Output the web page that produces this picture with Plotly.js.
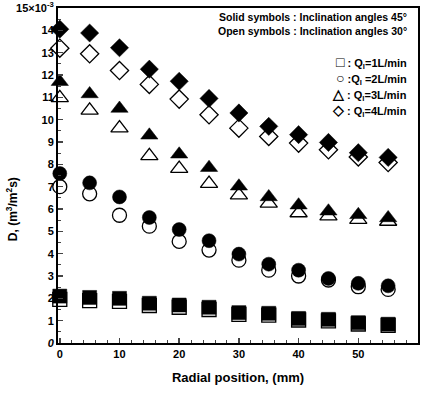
<!DOCTYPE html>
<html><head><meta charset="utf-8">
<script src="https://cdn.plot.ly/plotly-3.0.1.min.js"></script>
<style>html,body{margin:0;padding:0;background:#fff;}#chart{width:422px;height:394px;}</style>
</head><body><div id="chart"></div>
<script>
const radial = [0,5,10,15,20,25,30,35,40,45,50,55];
// Solid symbols: inclination 45 deg; Open symbols: inclination 30 deg (values x1e-3)
const q1_45 = [2.10,2.04,2.00,1.78,1.70,1.60,1.36,1.33,1.10,1.06,0.91,0.84];
const q1_30 = [1.95,1.90,1.86,1.68,1.60,1.50,1.28,1.25,1.03,0.99,0.85,0.79];
const q2_45 = [7.59,7.17,6.54,5.62,5.08,4.58,3.98,3.53,3.26,2.89,2.67,2.56];
const q2_30 = [7.00,6.68,5.72,5.23,4.55,4.16,3.71,3.26,3.00,2.82,2.52,2.40];
const q3_45 = [11.70,11.15,10.50,9.30,8.45,7.85,7.02,6.54,6.17,5.90,5.74,5.60];
const q3_30 = [10.98,10.42,9.62,8.38,7.81,7.14,6.62,6.25,5.82,5.68,5.52,5.44];
const q4_45 = [14.05,13.88,13.22,12.26,11.72,10.95,10.30,9.70,9.33,8.98,8.52,8.31];
const q4_30 = [13.20,12.95,12.20,11.58,10.92,10.22,9.62,9.25,8.95,8.65,8.33,8.08];
const yTicks = [0,1,2,3,4,5,6,7,8,9,10,11,12,13,14,15];
const yTickText = ['<i>0</i>','1','2','3','4','5','6','7','8','9','10','11','12','13','14','15×10<sup>-3</sup>'];
const xTicks = [0,10,20,30,40,50,60];
const xTickText = ['0','10','20','30','40','50','60'];

function tr(y, sym, filled, size){
  return {x: radial, y: y, mode:'markers', type:'scatter', showlegend:false, cliponaxis:false,
    marker:{symbol: sym, size: size, color: filled ? '#000' : '#fff',
      line:{color:'#000', width: filled ? 0.5 : 1.3}}};
}
const data = [
  tr(q1_30,'square',false,14), tr(q2_30,'circle',false,14), tr(q3_30,'triangle-up',false,15), tr(q4_30,'diamond',false,14),
  tr(q1_45,'square',true,14), tr(q2_45,'circle',true,14), tr(q3_45,'triangle-up',true,15), tr(q4_45,'diamond',true,14)
];
const F = {family:'Liberation Sans, Arial, sans-serif', size:11, color:'#000', weight:'bold'};
const layout = {
  width:422, height:394,
  margin:{l:58,r:4,t:8,b:51},
  paper_bgcolor:'#fff', plot_bgcolor:'#fff',
  font: F,
  xaxis:{range:[-0.3,60], tickvals:xTicks, ticktext:xTickText, ticks:'inside', ticklen:5, tickwidth:1.5,
    showline:true, linewidth:2, linecolor:'#000', mirror:true, showgrid:false, zeroline:false,
    minor:{dtick:2, ticks:'inside', ticklen:3, tickwidth:1, showgrid:false},
    tickfont:F,
    title:{text:'Radial position, (mm)', font:{family:'Liberation Sans, Arial, sans-serif', size:13, color:'#000'}, standoff:14}},
  yaxis:{range:[0,15], tickvals:yTicks, ticktext:yTickText, ticks:'inside', ticklen:5, tickwidth:1.5,
    showline:true, linewidth:2, linecolor:'#000', mirror:true, showgrid:false, zeroline:false,
    minor:{dtick:0.5, ticks:'inside', ticklen:3, tickwidth:1, showgrid:false},
    tickfont:F},
  annotations:[
    {xref:'paper', yref:'paper', x:-0.155, y:0.4, text:'D, (m<sup>3</sup>/m<sup>2</sup>s)', textangle:-90, showarrow:false,
     font:{family:'Liberation Sans, Arial, sans-serif', size:12, color:'#000'}},
    {xref:'paper', yref:'paper', x:0.975, y:0.972, xanchor:'right', yanchor:'middle', showarrow:false, align:'right',
     text:'Solid symbols : Inclination angles 45°', font:{...F, size:10.5}},
    {xref:'paper', yref:'paper', x:0.975, y:0.93, xanchor:'right', yanchor:'middle', showarrow:false, align:'right',
     text:'Open symbols : Inclination angles 30°', font:{...F, size:10.5}},
    {xref:'paper', yref:'paper', x:0.975, y:0.838, xanchor:'right', yanchor:'middle', showarrow:false,
     text:'<span style="font-size:14px">□</span> : Q<sub>l</sub>=1L/min', font:{...F, size:11}},
    {xref:'paper', yref:'paper', x:0.975, y:0.79, xanchor:'right', yanchor:'middle', showarrow:false,
     text:'<span style="font-size:14px">○</span> :Q<sub>l</sub> =2L/min', font:{...F, size:11}},
    {xref:'paper', yref:'paper', x:0.975, y:0.742, xanchor:'right', yanchor:'middle', showarrow:false,
     text:'<span style="font-size:14px">△</span> : Q<sub>l</sub>=3L/min', font:{...F, size:11}},
    {xref:'paper', yref:'paper', x:0.975, y:0.694, xanchor:'right', yanchor:'middle', showarrow:false,
     text:'<span style="font-size:14px">◇</span> : Q<sub>l</sub>=4L/min', font:{...F, size:11}}
  ]
};
Plotly.newPlot('chart', data, layout, {staticPlot:true, displayModeBar:false});
</script></body></html>
